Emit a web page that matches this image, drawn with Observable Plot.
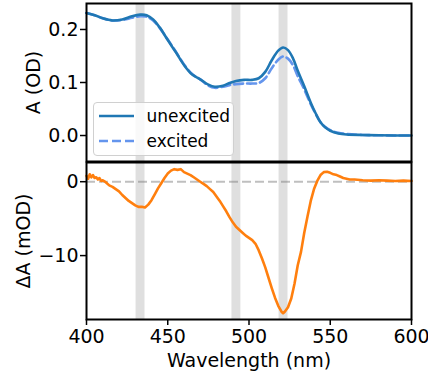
<!DOCTYPE html>
<html><head><meta charset="utf-8">
<script src="https://cdn.jsdelivr.net/npm/d3@7"></script>
<script src="https://cdn.jsdelivr.net/npm/@observablehq/plot@0.6"></script>
<style>
body{margin:0;background:#fff;}
#wrap{position:relative;width:428px;height:376px;font-family:"DejaVu Sans",sans-serif;}
#wrap > svg{position:absolute;left:0;overflow:visible;}
#legend{position:absolute;left:93px;top:102px;width:141px;height:54px;border:1px solid #d0d0d0;border-radius:4px;background:rgba(255,255,255,0.8);box-sizing:border-box;}
.lg{position:absolute;left:0;height:24px;display:flex;align-items:center;font-size:17px;color:#000;}
.lg svg{margin-left:5px;margin-right:12.5px;}
</style></head>
<body><div id="wrap"></div>
<script>
// Top panel: absorbance spectra (OD)
const wlTop = [400,405,410,416,422,428,433,437,441,445,450,455,460,465,470,475,479,484,488,492,497,502,506,510,514,518,521,524,527,530,534,538,541,544,547,550,555,560,570,580,590,600];
const unexcited = [0.231,0.227,0.221,0.217,0.219,0.225,0.228,0.227,0.219,0.204,0.180,0.157,0.133,0.115,0.106,0.096,0.092,0.094,0.099,0.103,0.105,0.105,0.108,0.120,0.142,0.160,0.166,0.161,0.146,0.122,0.093,0.062,0.042,0.025,0.015,0.009,0.004,0.002,0.001,0.0005,0.0,0.0];
const excited   = [0.231,0.227,0.221,0.217,0.218,0.222,0.225,0.224,0.217,0.203,0.181,0.158,0.134,0.116,0.106,0.094,0.090,0.092,0.095,0.097,0.098,0.098,0.099,0.108,0.127,0.143,0.149,0.145,0.133,0.112,0.087,0.059,0.041,0.025,0.016,0.010,0.005,0.003,0.001,0.0005,0.0,0.0];
// Bottom panel: difference spectrum (mOD)
const wlDiff = [400,401,402,403,404,405,406,407,408,409,410,412,414,416,418,420,422,424,426,428,430,432,434,436,438,440,442,444,446,448,450,452,454,456,458,460,462,464,466,468,470,472,474,476,478,480,482,484,486,488,490,492,494,496,498,500,502,504,506,508,510,512,514,516,518,520,521,522,524,526,528,530,532,534,536,538,540,542,544,546,548,550,552,554,556,558,560,562,565,570,575,580,585,590,595,600];
const deltaA = [0.8,0.4,1.0,0.6,0.9,0.5,0.6,0.3,0.5,0.1,0.2,-0.1,-0.5,-0.7,-1.0,-1.3,-1.8,-2.2,-2.6,-2.9,-3.2,-3.4,-3.4,-3.5,-3.1,-2.5,-1.7,-0.9,-0.2,0.5,1.1,1.5,1.7,1.6,1.7,1.3,1.1,0.9,0.6,0.3,0.0,-0.3,-0.6,-1.0,-1.4,-2.0,-2.6,-3.3,-4.0,-4.8,-5.5,-6.1,-6.5,-6.9,-7.3,-7.6,-7.9,-8.4,-9.3,-10.4,-11.6,-13.0,-14.4,-15.7,-16.8,-17.6,-17.8,-17.6,-17.0,-15.8,-13.8,-11.3,-9.5,-6.9,-4.7,-2.6,-1.0,0.1,0.9,1.3,1.35,1.2,1.0,0.9,0.7,0.5,0.4,0.3,0.3,0.2,0.15,0.2,0.15,0.1,0.15,0.1];
// Highlighted wavelength bands (nm)
const bandLo = [430.5, 489.5, 518.5];
const bandHi = [436, 495, 524];
const seriesNames = ["unexcited", "excited"];
const seriesColors = ["#1f77b4", "#6495ed"];
const seriesDash = [null, "9,4"];
const xTicks = [400,450,500,550,600];
const yTopTicks = [0.0,0.1,0.2];
const yBotTicks = [-10,0];

const bands = bandLo.map((lo,i)=>({lo, hi: bandHi[i]}));
const topData = seriesNames.flatMap((s,k)=> wlTop.map((w,i)=>({wl:w, A:(k===0?unexcited:excited)[i], s})));
const diffData = wlDiff.map((w,i)=>({wl:w, d: deltaA[i]}));

const FS = "19px";
const common = {width:428, marginLeft:86, marginRight:17, style:{fontSize:FS, fontFamily:"DejaVu Sans", overflow:"visible", background:"transparent"}};
const xDom = [400,600];

// draw excited first so the solid line sits on top where they coincide
const drawOrder = [1, 0];

const topPlot = Plot.plot({
  ...common, height:161, marginTop:3, marginBottom:0,
  x:{domain:xDom, axis:null}, y:{domain:[-0.049,0.249], axis:null},
  marks:[
    Plot.rect(bands,{x1:"lo",x2:"hi",fill:"gray",fillOpacity:0.25}),
    ...drawOrder.map(k=>Plot.line(topData.filter(d=>d.s===seriesNames[k]),{x:"wl",y:"A",stroke:seriesColors[k],strokeWidth:2.6,strokeDasharray:seriesDash[k],curve:"catmull-rom"})),
    Plot.axisY({ticks:yTopTicks,tickFormat:d3.format(".1f"),tickSize:6,tickPadding:2,strokeWidth:1.5,label:null}),
    Plot.text(["A (OD)"],{text:d=>d,frameAnchor:"left",dx:-53,rotate:-90,textAnchor:"middle",lineAnchor:"middle",fontSize:FS}),
    Plot.frame({stroke:"black",strokeWidth:2})
  ]
});
topPlot.style.top = "0px";

const botPlot = Plot.plot({
  ...common, height:215, marginTop:1, marginBottom:57,
  x:{domain:xDom, axis:null}, y:{domain:[-18.65,2.6], axis:null},
  marks:[
    Plot.rect(bands,{x1:"lo",x2:"hi",fill:"gray",fillOpacity:0.25}),
    Plot.ruleY([0],{stroke:"gray",strokeOpacity:0.5,strokeWidth:2,strokeDasharray:"9,4"}),
    Plot.line(diffData,{x:"wl",y:"d",stroke:"#ff7f0e",strokeWidth:2.6}),
    Plot.axisY({ticks:yBotTicks,tickSize:6,tickPadding:2,strokeWidth:1.5,label:null}),
    Plot.axisX({ticks:xTicks,tickSize:6,tickPadding:4,strokeWidth:1.5,label:null}),
    Plot.text(["ΔA (mOD)"],{text:d=>d,frameAnchor:"left",dx:-62.5,rotate:-90,textAnchor:"middle",lineAnchor:"middle",fontSize:FS}),
    Plot.text(["Wavelength (nm)"],{text:d=>d,frameAnchor:"bottom",dy:41,textAnchor:"middle",lineAnchor:"middle",fontSize:FS}),
    Plot.frame({stroke:"black",strokeWidth:2})
  ]
});
botPlot.style.top = "161px";

const wrap = document.getElementById("wrap");
wrap.appendChild(topPlot);
wrap.appendChild(botPlot);

const lg = document.createElement("div");
lg.id = "legend";
seriesNames.forEach((s,k)=>{
  const row = document.createElement("div");
  row.className = "lg";
  row.style.top = (k===0 ? 1 : 26) + "px";
  row.innerHTML = `<svg width="35" height="6"><line x1="0" y1="3" x2="35" y2="3" stroke="${seriesColors[k]}" stroke-width="2.6" ${seriesDash[k]?`stroke-dasharray="${seriesDash[k]}"`:""}/></svg><span>${s}</span>`;
  lg.appendChild(row);
});
wrap.appendChild(lg);
</script></body></html>
